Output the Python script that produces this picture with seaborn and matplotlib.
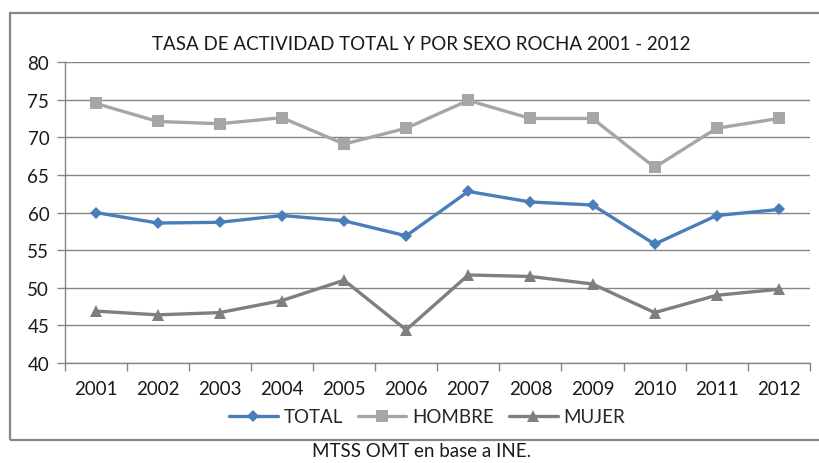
import matplotlib

matplotlib.use("Agg")
import matplotlib.pyplot as plt
import pandas as pd
import seaborn as sns
from matplotlib.patches import Rectangle
from matplotlib.ticker import FixedLocator

years = ["2001", "2002", "2003", "2004", "2005", "2006",
         "2007", "2008", "2009", "2010", "2011", "2012"]
total = [60.0, 58.6, 58.7, 59.6, 58.9, 56.9, 62.8, 61.4, 61.0, 55.8, 59.6, 60.4]
hombre = [74.5, 72.1, 71.8, 72.6, 69.1, 71.2, 74.9, 72.5, 72.5, 66.0, 71.2, 72.5]
mujer = [46.9, 46.4, 46.7, 48.3, 51.0, 44.4, 51.7, 51.5, 50.5, 46.7, 49.0, 49.8]
series = ["TOTAL", "HOMBRE", "MUJER"]

colors = {"TOTAL": "#4a7ebb", "HOMBRE": "#a6a6a6", "MUJER": "#7f7f7f"}
markers = {"TOTAL": "D", "HOMBRE": "s", "MUJER": "^"}
msizes = {"TOTAL": 6, "HOMBRE": 8, "MUJER": 8}

rows = []
for name, vals in zip(series, [total, hombre, mujer]):
    for i, v in enumerate(vals):
        rows.append({"idx": i, "year": years[i], "value": v, "serie": name})
df = pd.DataFrame(rows)

sns.set_theme(style="white")
plt.rcParams["font.family"] = ["Lato", "DejaVu Sans"]

fig = plt.figure(figsize=(8.2, 4.64), dpi=100)
ax = fig.add_axes([0.0787, 0.2155, 0.909, 0.6487])

for name in series:
    sub = df[df["serie"] == name]
    sns.lineplot(data=sub, x="idx", y="value", ax=ax, color=colors[name],
                 linewidth=2.4, marker=markers[name], markersize=msizes[name],
                 markeredgewidth=0, label=name)

ax.set_xlim(-0.5, len(years) - 0.5)
ax.set_ylim(40, 80)
ax.set_yticks(range(40, 81, 5))
ax.set_xticks(range(len(years)))
ax.set_xticklabels(years)
ax.xaxis.set_minor_locator(FixedLocator([i - 0.5 for i in range(len(years) + 1)]))
ax.tick_params(axis="x", which="major", length=0, pad=12, labelsize=13.5, colors="#1a1a1a")
ax.tick_params(axis="x", which="minor", length=6, width=1, color="#868686", direction="out", bottom=True)
ax.tick_params(axis="y", length=6, width=1, color="#868686", direction="out", left=True,
               pad=5, labelsize=13.5, colors="#1a1a1a")
ax.yaxis.grid(True, color="#868686", linewidth=1)
ax.set_axisbelow(True)
for side in ["top", "right"]:
    ax.spines[side].set_visible(False)
for side in ["left", "bottom"]:
    ax.spines[side].set_color("#868686")
    ax.spines[side].set_linewidth(1)
ax.set_xlabel("")
ax.set_ylabel("")

ax.legend(loc="center", bbox_to_anchor=(427 / 820, 1 - 418 / 464), bbox_transform=fig.transFigure,
          ncol=3, frameon=False, fontsize=13.5, handlelength=2.6, columnspacing=0.8,
          handletextpad=0.3)

fig.text(421 / 820, 1 - 45 / 464, "TASA DE ACTIVIDAD TOTAL Y POR SEXO ROCHA 2001 - 2012",
         ha="center", va="center", fontsize=13.5, color="#1a1a1a")
fig.text(422 / 820, 1 - 452 / 464, "MTSS OMT en base a INE.",
         ha="center", va="center", fontsize=13.5, color="#1a1a1a")

fig.patches.append(Rectangle((10 / 820, 1 - 441 / 464), 830 / 820, 427 / 464,
                             transform=fig.transFigure, fill=False,
                             edgecolor="#868686", linewidth=1.6))

fig.savefig("out.png", dpi=100)
